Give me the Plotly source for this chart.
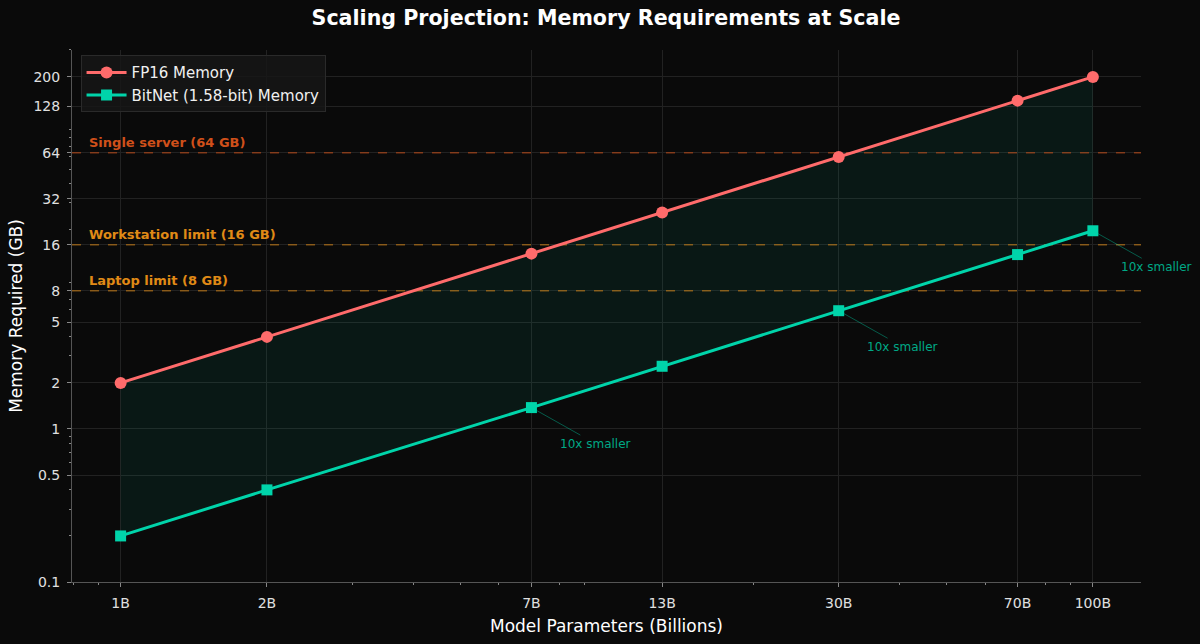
import numpy as np
import plotly.graph_objects as go

# model sizes in billions of parameters
params_b = [1, 2, 7, 13, 30, 70, 100]
param_labels = ["1B", "2B", "7B", "13B", "30B", "70B", "100B"]
fp16_gb = [2, 4, 14, 26, 60, 140, 200]
bitnet_gb = [0.2, 0.4, 1.38, 2.57, 5.93, 13.8, 19.75]
annotated_idx = [2, 4, 6]

y_ticks = [0.1, 0.5, 1, 2, 5, 8, 16, 32, 64, 128, 200]

limit_values = [64, 16, 8]
limit_labels = ["Single server (64 GB)", "Workstation limit (16 GB)", "Laptop limit (8 GB)"]
limit_text_colors = ["#d0501a", "#e08a16", "#e08a16"]
limit_line_colors = ["rgba(200,80,26,0.6)", "rgba(224,138,22,0.55)", "rgba(224,138,22,0.55)"]

X_RANGE = [-0.1, 2.099]   # log10 of axis limits
Y_RANGE = [-1, 2.477]

RED = "#ff6b6b"
TEAL = "#00d4aa"
BG = "#0a0a0a"
FONT = "DejaVu Sans"


def log_minor(lo, hi, majors):
    vals = []
    for k in range(lo, hi + 1):
        for n in range(2, 10):
            v = n * 10.0 ** k
            if not any(abs(v - m) / m < 1e-6 for m in majors):
                vals.append(v)
    return vals


fig = go.Figure()

# shaded band between the two series
fig.add_trace(go.Scatter(
    x=params_b, y=bitnet_gb, mode="lines", line=dict(width=0),
    showlegend=False, hoverinfo="skip",
))
fig.add_trace(go.Scatter(
    x=params_b, y=fp16_gb, mode="lines", line=dict(width=0),
    fill="tonexty", fillcolor="rgba(0,212,170,0.07)",
    showlegend=False, hoverinfo="skip",
))

# hardware limit lines (as traces so they sit above the grid, below the data)
x_edges = [10 ** X_RANGE[0], 10 ** X_RANGE[1]]
for val, col in zip(limit_values, limit_line_colors):
    fig.add_trace(go.Scatter(
        x=x_edges, y=[val, val], mode="lines",
        line=dict(color=col, width=1.5, dash="dash"),
        showlegend=False, hoverinfo="skip",
    ))

fig.add_trace(go.Scatter(
    x=params_b, y=fp16_gb, mode="lines+markers", name="FP16 Memory",
    line=dict(color=RED, width=3),
    marker=dict(symbol="circle", size=12, color=RED),
))
fig.add_trace(go.Scatter(
    x=params_b, y=bitnet_gb, mode="lines+markers", name="BitNet (1.58-bit) Memory",
    line=dict(color=TEAL, width=3),
    marker=dict(symbol="square", size=11, color=TEAL),
))

for val, label, col in zip(limit_values, limit_labels, limit_text_colors):
    fig.add_annotation(
        x=0.014, xref="paper", y=np.log10(val), yref="y",
        text="<b>%s</b>" % label, showarrow=False,
        xanchor="left", yanchor="bottom", yshift=1,
        font=dict(family=FONT, size=13, color=col),
    )

for i in annotated_idx:
    fig.add_annotation(
        x=np.log10(params_b[i]), y=np.log10(bitnet_gb[i]),
        text="%dx smaller" % round(fp16_gb[i] / bitnet_gb[i]),
        showarrow=True, arrowhead=0, arrowwidth=1,
        arrowcolor="rgba(0,212,170,0.4)", ax=64, ay=36,
        font=dict(family=FONT, size=12, color="#00a886"),
    )

axis_common = dict(
    type="log",
    automargin=False,
    showline=True, linecolor="#555555", linewidth=1,
    ticks="outside", tickcolor="#888888", ticklen=4,
    ticklabelstandoff=4,
    gridcolor="#222222", gridwidth=1,
    zeroline=False,
    tickfont=dict(family=FONT, size=14, color="#e0e0e0"),
)

fig.update_layout(
    width=1200, height=644,
    margin=dict(l=72, r=59, t=50, b=62),
    paper_bgcolor=BG, plot_bgcolor=BG,
    font=dict(family=FONT, color="#ffffff"),
    title=dict(
        text="<b>Scaling Projection: Memory Requirements at Scale</b>",
        x=606 / 1200, xanchor="center", y=0.972, yanchor="middle",
        font=dict(family=FONT, size=20.6, color="#ffffff"),
    ),
    xaxis=dict(
        axis_common,
        range=X_RANGE,
        tickmode="array", tickvals=params_b, ticktext=param_labels,
        minor=dict(tickmode="array", tickvals=log_minor(-1, 2, params_b),
                   ticks="outside", ticklen=2, tickcolor="#888888", showgrid=False),
        title=dict(text="Model Parameters (Billions)", standoff=10,
                   font=dict(family=FONT, size=17, color="#ffffff")),
    ),
    yaxis=dict(
        axis_common,
        range=Y_RANGE,
        tickmode="array", tickvals=y_ticks, ticktext=[("%g" % v) for v in y_ticks],
        minor=dict(tickmode="array", tickvals=log_minor(-1, 2, y_ticks),
                   ticks="outside", ticklen=2, tickcolor="#888888", showgrid=False),
        title=dict(text="Memory Required (GB)", standoff=6,
                   font=dict(family=FONT, size=17, color="#ffffff")),
    ),
    legend=dict(
        x=0.008, y=0.99, xanchor="left", yanchor="top",
        traceorder="normal",
        bgcolor="rgba(22,22,22,0.85)", bordercolor="#2a2a2a", borderwidth=1,
        font=dict(family=FONT, size=15, color="#f0f0f0"),
        itemwidth=40,
    ),
    showlegend=True,
)

fig.write_html("out.html", config={"displayModeBar": False},
               post_script="document.body.style.margin='0';")
